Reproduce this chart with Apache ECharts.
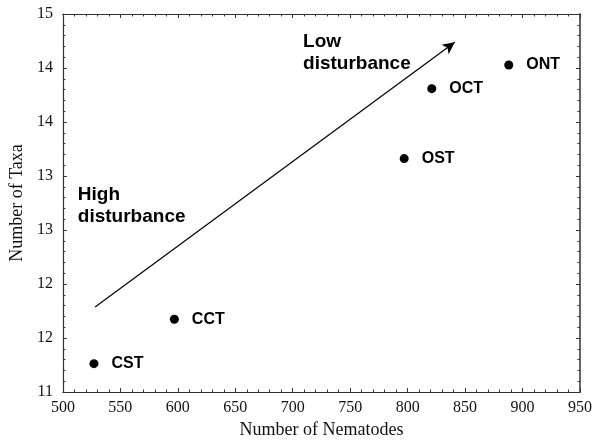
<!DOCTYPE html>
<html>
<head>
<meta charset="utf-8">
<script src="https://cdn.jsdelivr.net/npm/echarts@6/dist/echarts.min.js"></script>
<style>html,body{margin:0;padding:0;background:#fff}#c{width:595px;height:446px}</style>
</head>
<body>
<div id="c"></div>
<script>
var siteNames = ['CST', 'CCT', 'OST', 'OCT', 'ONT'];
var nematodes = [527, 597, 797, 821, 888];
var taxa = [11.30, 11.77, 13.47, 14.21, 14.46];
var arrowStart = [528, 11.90];
var arrowEnd = [841, 14.70];
var noteTexts = ['High\ndisturbance', 'Low\ndisturbance'];
var noteX = [513, 709];
var noteY = [13.20, 14.82];
var yTickLabels = ['11', '12', '12', '13', '13', '14', '14', '15'];

var serif = '"Liberation Serif", "Times New Roman", serif';
var sans = '"Liberation Sans", Arial, sans-serif';
var axisColor = '#333';

function axisBase() {
  return {
    axisLine: {show: true, onZero: false, lineStyle: {color: axisColor, width: 1.2}},
    axisTick: {show: true, inside: true, length: 4, lineStyle: {color: axisColor}},
    minorTick: {show: true, splitNumber: 5, length: 2.5, lineStyle: {color: axisColor}},
    splitLine: {show: false},
    minorSplitLine: {show: false}
  };
}

var xMain = Object.assign(axisBase(), {
  type: 'value', min: 500, max: 950, interval: 50, position: 'bottom',
  name: 'Number of Nematodes', nameLocation: 'middle', nameGap: 27,
  nameTextStyle: {fontFamily: serif, fontSize: 18, color: '#111'},
  axisLabel: {fontFamily: serif, fontSize: 16, color: '#111', margin: 8}
});
var xTop = Object.assign(axisBase(), {
  type: 'value', min: 500, max: 950, interval: 50, position: 'top',
  axisLabel: {show: false}
});
var yMain = Object.assign(axisBase(), {
  type: 'value', min: 11, max: 15, interval: 4 / 7, position: 'left',
  name: 'Number of Taxa', nameLocation: 'middle', nameGap: 34,
  nameTextStyle: {fontFamily: serif, fontSize: 18, color: '#111'},
  axisLabel: {fontFamily: serif, fontSize: 16, color: '#111', margin: 10,
    formatter: function (v, i) { return yTickLabels[i]; }}
});
var yRight = Object.assign(axisBase(), {
  type: 'value', min: 11, max: 15, interval: 4 / 7, position: 'right',
  axisLabel: {show: false}
});
yRight.axisLine = {show: true, onZero: false, lineStyle: {color: '#555', width: 1.8}};

var chart = echarts.init(document.getElementById('c'), null, {renderer: 'canvas'});
chart.setOption({
  animation: false,
  backgroundColor: '#fff',
  grid: {left: 60, right: 12, top: 14, bottom: 54, containLabel: false},
  xAxis: [xMain, xTop],
  yAxis: [yMain, yRight],
  series: [
    {
      type: 'scatter',
      xAxisIndex: 0, yAxisIndex: 0,
      symbol: 'circle', symbolSize: 9,
      itemStyle: {color: '#000', opacity: 1},
      data: nematodes.map(function (x, i) { return {value: [x, taxa[i]], name: siteNames[i]}; }),
      label: {
        show: true, position: 'right', distance: 13,
        formatter: function (p) { return p.name; },
        fontFamily: sans, fontWeight: 'bold', fontSize: 16, color: '#000'
      },
      emphasis: {disabled: true},
      markLine: {
        silent: true,
        symbol: ['none', 'arrow'],
        symbolSize: [9, 12],
        label: {show: false},
        lineStyle: {color: '#000', width: 1.2, type: 'solid', opacity: 1},
        data: [[{coord: arrowStart}, {coord: arrowEnd}]]
      }
    },
    {
      type: 'scatter',
      xAxisIndex: 0, yAxisIndex: 0,
      symbolSize: 0,
      silent: true,
      itemStyle: {opacity: 1},
      data: noteX.map(function (x, i) { return {value: [x, noteY[i]], name: noteTexts[i]}; }),
      label: {
        show: true, position: [0, 0], align: 'left', verticalAlign: 'top',
        formatter: function (p) { return p.name; },
        fontFamily: sans, fontWeight: 'bold', fontSize: 19, lineHeight: 22, color: '#000'
      }
    }
  ]
});
</script>
</body>
</html>
